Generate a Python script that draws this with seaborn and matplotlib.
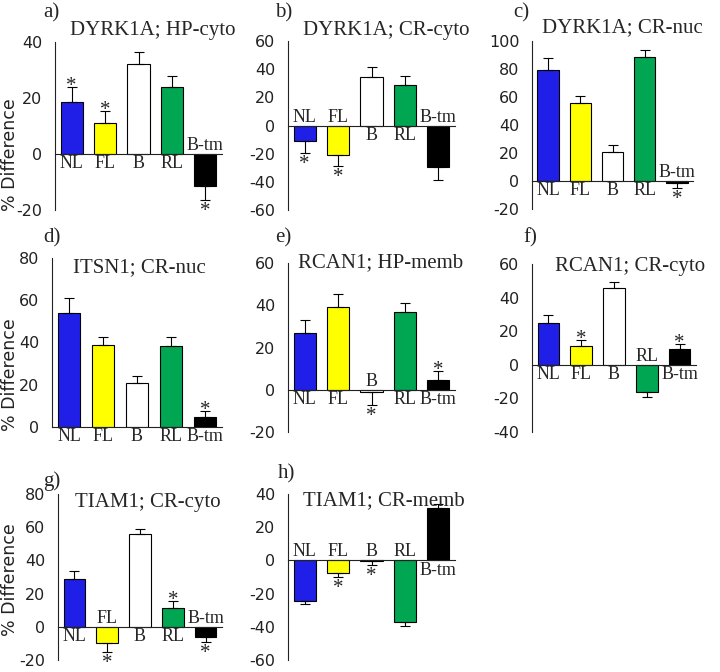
import numpy as np
import pandas as pd
import matplotlib
matplotlib.use("Agg")
import matplotlib.pyplot as plt
import seaborn as sns

# ─── Data ─────────────────────────────────────────────────────────────────────
groups = ["NL", "FL", "B", "RL", "B-tm"]
bar_colors = ["#1f1fe8", "#ffff00", "#ffffff", "#00a651", "#000000"]

a_vals = [18.5, 11, 32, 24, -11.5]
a_errs = [5.5, 4.5, 4.5, 4, 5]
a_stars = [1, 1, 0, 0, 1]

b_vals = [-11, -21, 34.5, 28.5, -29.5]
b_errs = [8.5, 8, 7, 7, 9]
b_stars = [1, 1, 0, 0, 0]

c_vals = [79, 55.5, 21, 88.8, -1.7]
c_errs = [9, 5, 4.5, 5, 3]
c_stars = [0, 0, 0, 0, 1]

d_vals = [54, 39, 21, 38.5, 4.8]
d_errs = [7, 3.5, 3, 4, 3]
d_stars = [0, 0, 0, 0, 1]

e_vals = [27, 39, -1, 37, 4.4]
e_errs = [6, 6.5, 6, 4, 4.5]
e_stars = [0, 0, 1, 0, 1]

f_vals = [25, 11, 46, -16, 9.6]
f_errs = [4.7, 4, 3.5, 3, 3]
f_stars = [0, 1, 0, 0, 1]

g_vals = [29, -10, 56, 11.5, -6.3]
g_errs = [4.5, 5, 3, 4.3, 2.6]
g_stars = [0, 1, 0, 1, 1]

h_vals = [-24.5, -7.5, -0.6, -37.3, 31.4]
h_errs = [2, 2.7, 2.2, 2, 2.7]
h_stars = [0, 1, 1, 0, 0]

a_ticks = [-20, 0, 20, 40]
b_ticks = [-60, -40, -20, 0, 20, 40, 60]
c_ticks = [-20, 0, 20, 40, 60, 80, 100]
d_ticks = [0, 20, 40, 60, 80]
e_ticks = [-20, 0, 20, 40, 60]
f_ticks = [-40, -20, 0, 20, 40, 60]
g_ticks = [-20, 0, 20, 40, 60, 80]
h_ticks = [-60, -40, -20, 0, 20, 40]

titles = ["DYRK1A; HP-cyto", "DYRK1A; CR-cyto", "DYRK1A; CR-nuc",
          "ITSN1; CR-nuc", "RCAN1; HP-memb", "RCAN1; CR-cyto",
          "TIAM1; CR-cyto", "TIAM1; CR-memb"]
letters = ["a)", "b)", "c)", "d)", "e)", "f)", "g)", "h)"]

# ─── Layout (pixels) ──────────────────────────────────────────────────────────
W, H = 720, 672
SERIF = "Liberation Serif"
SANS = "DejaVu Sans"
INK = "#222222"

sns.set_style("white")
plt.rcParams["font.family"] = [SANS]
plt.rcParams["axes.unicode_minus"] = False

fig = plt.figure(figsize=(W / 100, H / 100), dpi=100)


def px_axes(l, t, r, b):
    return fig.add_axes([l / W, 1 - b / H, (r - l) / W, (b - t) / H])


def draw_panel(ax, vals, errs, stars, ticks):
    df = pd.DataFrame({"group": groups, "value": vals})
    sns.barplot(data=df, x="group", y="value", hue="group",
                palette=dict(zip(groups, bar_colors)), legend=False, saturation=1,
                edgecolor="black", linewidth=0.8, width=0.66, ax=ax)

    # one-sided error bars, away from zero
    lower = [e if v < 0 else 0 for v, e in zip(vals, errs)]
    upper = [0 if v < 0 else e for v, e in zip(vals, errs)]
    ax.errorbar(np.arange(len(groups)), vals, yerr=[lower, upper], fmt="none",
                ecolor="black", elinewidth=0.8, capsize=3.5, capthick=0.8)

    for i, (g, v, e, s) in enumerate(zip(groups, vals, errs, stars)):
        if v >= 0:
            ax.annotate(g, (i, 0), xytext=(0, -1), textcoords="offset points",
                        ha="center", va="top", family=SERIF, fontsize=13)
        else:
            ax.annotate(g, (i, 0), xytext=(0, 0), textcoords="offset points",
                        ha="center", va="bottom", family=SERIF, fontsize=13)
        if s:
            if v >= 0:
                ax.annotate("*", (i, v + e), xytext=(0, -3), textcoords="offset points",
                            ha="center", va="baseline", family=SERIF, fontsize=15)
            else:
                ax.annotate("*", (i, v - e), xytext=(0, -1.5), textcoords="offset points",
                            ha="center", va="top", family=SERIF, fontsize=15)

    ax.set_xlim(-0.5, 4.5)
    ax.set_ylim(ticks[0], ticks[-1])
    ax.set_yticks(ticks)
    ax.set_xticks(np.arange(0.5, 5, 1))
    ax.set_xticklabels([])
    ax.set_xlabel("")
    ax.set_ylabel("")
    sns.despine(ax=ax)
    ax.spines["bottom"].set_position(("data", 0))
    for sp in ("left", "bottom"):
        ax.spines[sp].set_linewidth(0.8)
        ax.spines[sp].set_color(INK)
    ax.tick_params(axis="x", direction="out", length=4, width=0.8, color=INK)
    ax.tick_params(axis="y", direction="out", length=5, width=0.8, color=INK,
                   labelsize=11.5, labelcolor=INK, pad=4)
    ax.patch.set_alpha(0)


boxes = [(55, 42, 222, 210), (288, 41, 455, 210), (532, 41, 693, 209),
         (52, 258, 222, 427), (288, 263, 455, 432), (532, 264, 696, 432),
         (58, 494, 222, 660), (288, 494, 455, 660)]
panels = [(a_vals, a_errs, a_stars, a_ticks), (b_vals, b_errs, b_stars, b_ticks),
          (c_vals, c_errs, c_stars, c_ticks), (d_vals, d_errs, d_stars, d_ticks),
          (e_vals, e_errs, e_stars, e_ticks), (f_vals, f_errs, f_stars, f_ticks),
          (g_vals, g_errs, g_stars, g_ticks), (h_vals, h_errs, h_stars, h_ticks)]

title_pos = [(70, 30), (303, 30), (542, 28), (73, 268), (298, 263), (555, 267),
             (75, 502), (303, 501)]
letter_pos = [(43, 13), (275, 13), (513, 13), (43, 238), (275, 238), (523, 238),
              (43, 481), (278, 474)]

for box, (vals, errs, stars, ticks) in zip(boxes, panels):
    draw_panel(px_axes(*box), vals, errs, stars, ticks)

for txt, (x, y) in zip(titles, title_pos):
    fig.text(x / W, 1 - y / H, txt, ha="left", va="center", family=SERIF, fontsize=15)

for txt, (x, y) in zip(letters, letter_pos):
    fig.text(x / W, 1 - y / H, txt, ha="left", va="center", family=SERIF, fontsize=15)

for y in (155, 375, 580):
    fig.text(10 / W, 1 - y / H, "% Difference", rotation=90, ha="center", va="center",
             family=SANS, fontsize=12.5, color=INK)

fig.savefig("out.png", dpi=100)
